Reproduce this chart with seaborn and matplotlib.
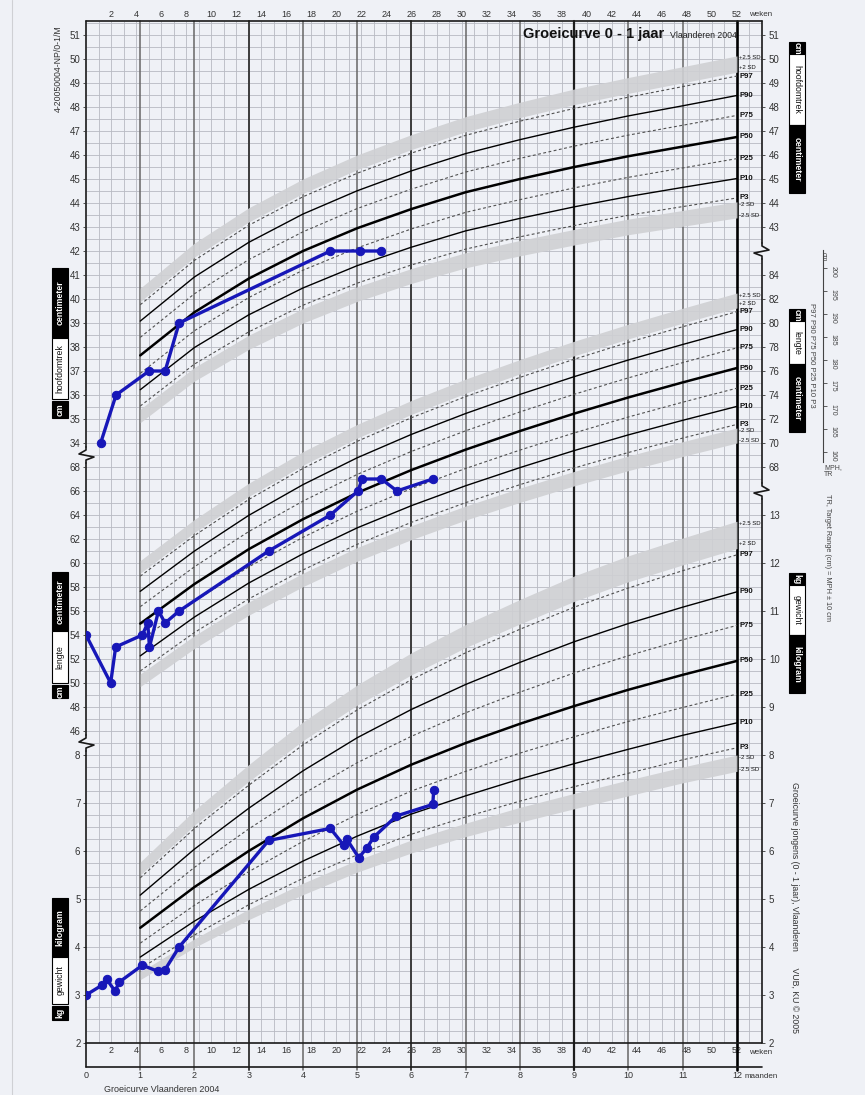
import numpy as np
import matplotlib
matplotlib.use('Agg')
import matplotlib.pyplot as plt
from matplotlib.patches import Rectangle
from matplotlib.lines import Line2D
import seaborn as sns

# Groeicurve 0 - 1 jaar (jongens, Vlaanderen 2004) + measurements of one child

# reference curves, one value per month (rows follow curve_names)
curve_months = [1, 2, 3, 4, 5, 6, 7, 8, 9, 10, 11, 12]
curve_names = ['-2.5SD', '-2SD', 'P3', 'P10', 'P25', 'P50', 'P75', 'P90', 'P97', '+2SD', '+2.5SD']

head_curves = [
    [34.85, 36.58, 37.90, 39.00, 39.90, 40.65, 41.30, 41.80, 42.25, 42.68, 43.03, 43.38],
    [35.41, 37.15, 38.49, 39.60, 40.51, 41.27, 41.93, 42.44, 42.90, 43.33, 43.69, 44.05],
    [35.54, 37.29, 38.63, 39.74, 40.66, 41.42, 42.08, 42.59, 43.06, 43.49, 43.85, 44.21],
    [36.22, 37.98, 39.34, 40.46, 41.39, 42.16, 42.84, 43.36, 43.84, 44.27, 44.65, 45.02],
    [36.90, 38.68, 40.06, 41.20, 42.13, 42.92, 43.61, 44.14, 44.63, 45.07, 45.46, 45.85],
    [37.65, 39.45, 40.85, 42.00, 42.95, 43.75, 44.45, 45.00, 45.50, 45.95, 46.35, 46.75],
    [38.40, 40.22, 41.64, 42.80, 43.77, 44.58, 45.29, 45.86, 46.37, 46.83, 47.24, 47.65],
    [39.08, 40.92, 42.36, 43.54, 44.51, 45.34, 46.06, 46.64, 47.16, 47.63, 48.05, 48.48],
    [39.76, 41.61, 43.07, 44.26, 45.24, 46.08, 46.82, 47.41, 47.94, 48.41, 48.85, 49.29],
    [39.89, 41.75, 43.21, 44.40, 45.39, 46.23, 46.97, 47.56, 48.10, 48.57, 49.01, 49.45],
    [40.45, 42.33, 43.80, 45.00, 46.00, 46.85, 47.60, 48.20, 48.75, 49.23, 49.68, 50.13],
]
length_curves = [
    [49.70, 52.88, 55.65, 58.03, 60.15, 61.95, 63.58, 65.05, 66.43, 67.70, 68.88, 70.00],
    [50.75, 53.95, 56.75, 59.15, 61.29, 63.11, 64.75, 66.24, 67.63, 68.92, 70.11, 71.25],
    [51.00, 54.21, 57.01, 59.42, 61.56, 63.39, 65.03, 66.53, 67.92, 69.21, 70.41, 71.55],
    [52.26, 55.50, 58.33, 60.77, 62.93, 64.78, 66.44, 67.95, 69.37, 70.68, 71.89, 73.05],
    [53.54, 56.81, 59.68, 62.14, 64.32, 66.20, 67.88, 69.41, 70.84, 72.17, 73.40, 74.57],
    [54.95, 58.25, 61.15, 63.65, 65.85, 67.75, 69.45, 71.00, 72.45, 73.80, 75.05, 76.25],
    [56.36, 59.69, 62.62, 65.16, 67.38, 69.30, 71.02, 72.59, 74.06, 75.43, 76.70, 77.93],
    [57.64, 61.00, 63.97, 66.53, 68.77, 70.72, 72.46, 74.05, 75.53, 76.92, 78.21, 79.45],
    [58.90, 62.29, 65.29, 67.88, 70.14, 72.11, 73.87, 75.47, 76.98, 78.39, 79.69, 80.95],
    [59.15, 62.55, 65.55, 68.15, 70.41, 72.39, 74.15, 75.76, 77.27, 78.68, 79.99, 81.25],
    [60.20, 63.63, 66.65, 69.28, 71.55, 73.55, 75.33, 76.95, 78.48, 79.90, 81.23, 82.50],
]
weight_curves = [
    [3.32, 3.99, 4.57, 5.09, 5.56, 5.96, 6.30, 6.60, 6.88, 7.15, 7.42, 7.66],
    [3.48, 4.17, 4.79, 5.33, 5.81, 6.23, 6.58, 6.91, 7.20, 7.48, 7.75, 8.00],
    [3.55, 4.25, 4.88, 5.43, 5.92, 6.35, 6.71, 7.04, 7.34, 7.62, 7.90, 8.15],
    [3.79, 4.54, 5.20, 5.79, 6.31, 6.77, 7.15, 7.50, 7.82, 8.12, 8.41, 8.67],
    [4.08, 4.87, 5.57, 6.20, 6.76, 7.25, 7.66, 8.04, 8.38, 8.70, 8.99, 9.27],
    [4.40, 5.25, 6.00, 6.68, 7.28, 7.80, 8.25, 8.65, 9.02, 9.36, 9.67, 9.96],
    [4.75, 5.66, 6.46, 7.19, 7.84, 8.39, 8.88, 9.31, 9.71, 10.07, 10.40, 10.70],
    [5.08, 6.04, 6.89, 7.67, 8.36, 8.95, 9.47, 9.93, 10.36, 10.74, 11.08, 11.40],
    [5.44, 6.47, 7.37, 8.21, 8.94, 9.57, 10.13, 10.62, 11.08, 11.48, 11.84, 12.17],
    [5.50, 6.54, 7.45, 8.30, 9.04, 9.67, 10.24, 10.73, 11.20, 11.61, 11.96, 12.30],
    [5.77, 6.85, 7.80, 8.69, 9.46, 10.13, 10.72, 11.24, 11.73, 12.15, 12.52, 12.87],
]

# the child's measurements (age in weeks)
head_weeks = [1.17, 2.4, 5.04, 6.32, 7.44, 19.52, 21.87, 23.57]
head_cm = [34, 36, 37, 37, 39, 42, 42, 42]

length_weeks = [0, 1.97, 2.37, 4.5, 4.93, 5.07, 5.79, 6.32, 7.44, 14.59, 19.52,
                21.73, 22.05, 23.6, 24.84, 27.7]
length_cm = [54, 50, 53, 54, 55, 53, 56, 55, 56, 61, 64, 66, 67, 67, 66, 67]

weight_weeks = [0, 1.25, 1.65, 2.32, 2.66, 4.5, 5.79, 6.32, 7.44, 14.59, 19.52,
                20.59, 20.85, 21.79, 22.45, 22.99, 24.8, 27.7, 27.78]
weight_kg = [3.0, 3.2, 3.33, 3.08, 3.27, 3.62, 3.49, 3.53, 4.0, 6.22, 6.47,
             6.12, 6.24, 5.86, 6.07, 6.29, 6.73, 6.97, 7.28]

# axis labels
head_ticks_left = list(range(34, 52))
head_ticks_right = list(range(43, 52))
length_ticks_left = list(range(46, 69, 2))
length_ticks_right = list(range(68, 85, 2))
weight_ticks_left = list(range(2, 9))
weight_ticks_right = list(range(2, 14))
week_ticks = list(range(2, 53, 2))
month_ticks = list(range(0, 12))
mph_ticks = [160, 165, 170, 175, 180, 185, 190, 195, 200]

sns.set_style('white')
plt.rcParams['font.family'] = ['Liberation Sans', 'DejaVu Sans']

W, H = 865, 1095
def fx(px):
    return px / W
def fy(py):
    return 1 - py / H

BG = '#eff1f6'
GRID = '#b7bac2'
BAND = '#cfd0d3'
BLUE = '#1717b8'

fig = plt.figure(figsize=(W / 100, H / 100), dpi=100, facecolor=BG)

top_px, bot_px, left_px, right_px = 21, 1043, 86, 762
plot_w, plot_h = right_px - left_px, bot_px - top_px
ax = fig.add_axes([fx(left_px), fy(bot_px), plot_w / W, plot_h / H])
ax.set_facecolor(BG)
ax.set_xlim(0, 54)
ax.set_ylim(2, 2 + plot_h / 48)          # gewicht: 48 px per kg
ax_len = ax.twinx()
ax_len.set_ylim(20, 20 + plot_h / 12)    # lengte: 12 px per cm
ax_head = ax.twinx()
ax_head.set_ylim(9, 9 + plot_h / 24)     # hoofdomtrek: 24 px per cm

# grid
ytop = 2 + plot_h / 48
ax.hlines(np.arange(2.25, ytop, 0.25), 0, 54, color=GRID, lw=0.6, zorder=0)
ax.vlines(range(1, 54), 2, ytop, color=GRID, lw=0.6, zorder=0)

strip = 24 / plot_h
for m in range(1, 13):
    w = m * 52 / 12
    if m == 12:
        c, lw = 'black', 1.9
    elif m == 9:
        c, lw = '#1e1e1e', 1.6
    elif m % 3 == 0:
        c, lw = '#3c3c3c', 1.4
    else:
        c, lw = '#666666', 1.1
    ax.axvline(w, ymin=-strip - 3 / plot_h, ymax=1, color=c, lw=lw, clip_on=False, zorder=1)

# frame
fr = dict(transform=ax.transAxes, color='#1a1a1a', lw=1.2, clip_on=False, zorder=6)
ax.plot([0, 1], [1, 1], **fr)
ax.plot([0, 1], [0, 0], **fr)
ax.plot([0, 1], [-strip, -strip], **fr)

def broken_spine(x, breaks, y0, y1, side):
    ys = [y1]
    for b in breaks:
        ys += [b + 8 / plot_h, b - 8 / plot_h]
    ys.append(y0)
    for i in range(0, len(ys), 2):
        ax.plot([x, x], [ys[i], ys[i + 1]], **fr)
    for b in breaks:
        zz = [(0, 8), (0, 5), (7 * side, 1), (-8 * side, -2), (0, -5), (0, -8)]
        ax.plot([x + dx / plot_w for dx, dy in zz], [b + dy / plot_h for dx, dy in zz], **fr)

broken_spine(0, [(bot_px - 455) / plot_h, (bot_px - 743) / plot_h], -strip, 1, -1)
broken_spine(1, [(bot_px - 251) / plot_h, (bot_px - 491) / plot_h], 0, 1, 1)

# reference curves
label_txt = {'-2.5SD': '-2.5 SD', '-2SD': '-2 SD', '+2SD': '+2 SD', '+2.5SD': '+2.5 SD'}
label_off = {'-2.5SD': 1.5, '-2SD': -2.0, '+2SD': 3.5, '+2.5SD': -1.5}

def draw_curves(axk, table):
    weeks = np.array(curve_months) * 52 / 12
    rows = dict(zip(curve_names, table))
    axk.fill_between(weeks, rows['-2.5SD'], rows['-2SD'], color=BAND, alpha=0.9, lw=0, zorder=2)
    axk.fill_between(weeks, rows['+2SD'], rows['+2.5SD'], color=BAND, alpha=0.9, lw=0, zorder=2)
    for name in ['P3', 'P10', 'P25', 'P50', 'P75', 'P90', 'P97']:
        if name == 'P50':
            kw = dict(color='black', lw=1.8, linestyle='-')
        elif name in ('P10', 'P90'):
            kw = dict(color='black', lw=1.0, linestyle='-')
        else:
            kw = dict(color='#505050', lw=0.8, linestyle=(0, (2.6, 2.2)))
        sns.lineplot(x=weeks, y=rows[name], ax=axk, estimator=None, sort=False, zorder=3, **kw)
    for name, vals in rows.items():
        is_p = name.startswith('P')
        axk.annotate(label_txt.get(name, name), xy=(52, vals[-1]), xytext=(1.5, label_off.get(name, 0)),
                     textcoords='offset points', ha='left', va='center',
                     fontsize=5.6 if is_p else 4.3, fontweight='bold' if is_p else 'normal',
                     color='#111', annotation_clip=False, zorder=7)

draw_curves(ax_head, head_curves)
draw_curves(ax_len, length_curves)
draw_curves(ax, weight_curves)

# child's data
dot = dict(color=BLUE, lw=2.4, marker='o', markersize=6, markeredgecolor=BLUE,
           estimator=None, sort=False, zorder=8)
sns.lineplot(x=head_weeks, y=head_cm, ax=ax_head, **dot)
sns.lineplot(x=length_weeks, y=length_cm, ax=ax_len, **dot)
sns.lineplot(x=weight_weeks, y=weight_kg, ax=ax, **dot)

# y ticks, left and right, per measure
def side_ticks(axk, left, right):
    axk.yaxis.tick_left()
    axk.set_yticks(left)
    axk.set_ylabel('')
    axk.tick_params(axis='y', length=2.5, width=0.6, pad=1.5, labelsize=7, colors='#333')
    sec = axk.secondary_yaxis('right')
    sec.set_yticks(right)
    sec.tick_params(axis='y', length=2.5, width=0.6, pad=2.5, labelsize=7, colors='#333')
    for s in list(sec.spines.values()) + list(axk.spines.values()):
        s.set_visible(False)

side_ticks(ax_head, head_ticks_left, head_ticks_right)
side_ticks(ax_len, length_ticks_left, length_ticks_right)
side_ticks(ax, weight_ticks_left, weight_ticks_right)

# weeks (bottom and top) and months
ax.set_xticks(week_ticks)
ax.tick_params(axis='x', length=0, pad=2.5, labelsize=6.5, colors='#333')
secx = ax.secondary_xaxis('top')
secx.set_xticks(week_ticks)
secx.tick_params(axis='x', length=0, pad=1.5, labelsize=6.5, colors='#333')
for s in secx.spines.values():
    s.set_visible(False)
ax.set_xlabel('')
xt = ax.get_xaxis_transform()
ax.text(53, 1 + 6 / plot_h, 'weken', transform=xt, ha='left', va='center', fontsize=5.8, color='#333')
ax.text(53, -10 / plot_h, 'weken', transform=xt, ha='left', va='center', fontsize=5.8, color='#333')
for m in month_ticks:
    ax.text(m * 52 / 12, -33 / plot_h, str(m), transform=xt, ha='center', va='center',
            fontsize=6.5, color='#333')
ax.text(52, -33 / plot_h, '12', transform=xt, ha='center', va='center', fontsize=6.5, color='#333')
ax.text(52.6, -33 / plot_h, 'maanden', transform=xt, ha='left', va='center', fontsize=5.8, color='#333')
ax.text(1.45, -46 / plot_h, 'Groeicurve Vlaanderen 2004', transform=xt, ha='left', va='center',
        fontsize=6.5, color='#333')

# titles
fig.text(fx(523), fy(34), 'Groeicurve 0 - 1 jaar', fontsize=10.5, fontweight='bold',
         ha='left', va='center', color='#111')
fig.text(fx(737), fy(35), 'Vlaanderen 2004', fontsize=6.3, ha='right', va='center', color='#222')
fig.text(fx(58), fy(69), '4-20050004-NP/0-1/M', rotation=90, fontsize=6.3, ha='center',
         va='center', color='#333')
fig.text(fx(794), fy(908), 'Groeicurve jongens (0 - 1 jaar), Vlaanderen       VUB, KU \u00a9 2005',
         rotation=270, fontsize=6.3, ha='center', va='center', color='#333')
fig.add_artist(Line2D([fx(12), fx(12)], [0, 1], transform=fig.transFigure, color='#cfd0d4', lw=0.8))

# black / white label boxes
def label_stack(xc, parts, rot):
    for top, bot, txt, dark in parts:
        fig.add_artist(Rectangle((fx(xc - 8), fy(bot)), 16 / W, (bot - top) / H,
                                 transform=fig.transFigure, facecolor='black' if dark else 'white',
                                 edgecolor='black', lw=0.8))
        fig.text(fx(xc), fy((top + bot) / 2), txt, rotation=rot, ha='center', va='center',
                 color='white' if dark else '#111', fontsize=6.3,
                 fontweight='bold' if dark else 'normal')

label_stack(60, [(268, 338, 'centimeter', True), (338, 399, 'hoofdomtrek', False),
                 (401, 418, 'cm', True)], 90)
label_stack(60, [(572, 631, 'centimeter', True), (631, 683, 'lengte', False),
                 (685, 698, 'cm', True)], 90)
label_stack(60, [(898, 957, 'kilogram', True), (957, 1004, 'gewicht', False),
                 (1006, 1020, 'kg', True)], 90)
label_stack(797, [(42, 54, 'cm', True), (54, 125, 'hoofdomtrek', False),
                  (125, 193, 'centimeter', True)], 270)
label_stack(797, [(309, 321, 'cm', True), (321, 364, 'lengte', False),
                  (364, 432, 'centimeter', True)], 270)
label_stack(797, [(573, 585, 'kg', True), (585, 635, 'gewicht', False),
                  (635, 693, 'kilogram', True)], 270)

# MPH / target range scale
ax_mph = fig.add_axes([fx(818), fy(462), 5 / W, 212 / H])
ax_mph.patch.set_visible(False)
ax_mph.set_ylim(160 - 10 / 4.6, 200 + 18 / 4.6)
ax_mph.set_xticks([])
ax_mph.yaxis.tick_right()
ax_mph.set_yticks(mph_ticks)
ax_mph.tick_params(axis='y', length=3, width=0.6, pad=1.5, labelsize=5, colors='#444',
                   labelrotation=270)
for side, s in ax_mph.spines.items():
    s.set_visible(side == 'right')
    s.set_color('#444')
    s.set_linewidth(0.8)
fig.text(fx(823), fy(257), 'cm', rotation=270, fontsize=5, ha='center', va='center', color='#444')
fig.text(fx(812), fy(355), 'P97 P90 P75 P50 P25 P10 P3', rotation=270, fontsize=5.6,
         ha='center', va='center', color='#444')
fig.text(fx(824), fy(471), 'MPH,\nTR', fontsize=5, ha='left', va='center', color='#444',
         linespacing=0.9)
fig.text(fx(828), fy(558), 'TR, Target Range (cm) = MPH \u00b1 10 cm', rotation=270, fontsize=5.3,
         ha='center', va='center', color='#444')

fig.savefig('out.png', dpi=100, facecolor=fig.get_facecolor())
